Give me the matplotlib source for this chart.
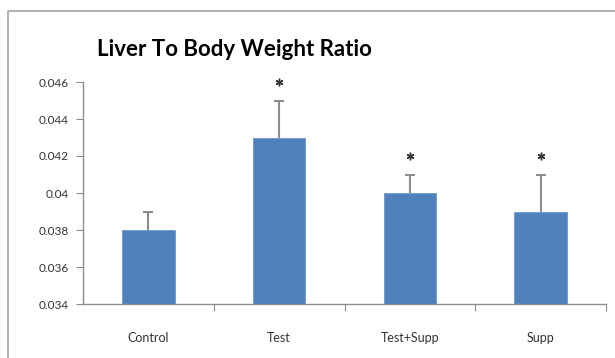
import matplotlib.pyplot as plt
from matplotlib.lines import Line2D

plt.rcParams['font.family'] = ['Lato', 'DejaVu Sans']

groups = ['Control', 'Test', 'Test+Supp', 'Supp']
ratio = [0.038, 0.043, 0.040, 0.039]
err = [0.001, 0.002, 0.001, 0.002]
signif = [False, True, True, True]
yticks = [0.034, 0.036, 0.038, 0.04, 0.042, 0.044, 0.046]
ytick_labels = ['0.034', '0.036', '0.038', '0.04', '0.042', '0.044', '0.046']

fig = plt.figure(figsize=(6.15, 3.58), dpi=100)

# chart area border (only top and left are visible in the crop)
bx, by = 8 / 615, 1 - 11 / 358
fig.lines.append(Line2D([bx, bx, 1.0], [0, by, by], transform=fig.transFigure,
                        color='#a6a6a6', linewidth=1.2))

ax = fig.add_axes([83 / 615, (358 - 304) / 358, (606 - 83) / 615, (304 - 82) / 358])
x = list(range(len(groups)))
ax.bar(x, ratio, width=0.4, color='#4f81bd', edgecolor='#6f98cc', linewidth=0.6, zorder=2)
line, caps, bars = ax.errorbar(x, ratio, yerr=[[0] * len(err), err], fmt='none', ecolor='#8c8c8c',
                               elinewidth=1.5, capsize=3.5, capthick=1.5, zorder=3)
caps[0].set_visible(False)
caps[1].set_color('black')

# significance markers just above the error bars
for i in x:
    if signif[i]:
        ax.plot(i, ratio[i] + err[i] + 0.001, marker=(6, 2, 0), markersize=5.5, color='#333333',
                markeredgewidth=1.0, clip_on=False, zorder=4)

ax.set_ylim(0.034, 0.046)
ax.set_xlim(-0.5, 3.5)
ax.set_yticks(yticks)
ax.set_yticklabels(ytick_labels)
ax.set_xticks([0.5, 1.5, 2.5, 3.5])
ax.set_xticklabels([])
ax.set_xticks(x, minor=True)
ax.set_xticklabels(groups, minor=True)
ax.tick_params(axis='x', which='minor', length=0, pad=20, labelsize=9, labelcolor='#333333')
ax.tick_params(axis='x', which='major', length=5, color='#8c8c8c', direction='out')
ax.tick_params(axis='y', length=5, color='#8c8c8c', labelsize=8.5, labelcolor='#333333', pad=5)

for side in ['top', 'right']:
    ax.spines[side].set_visible(False)
for side in ['left', 'bottom']:
    ax.spines[side].set_color('#8c8c8c')
    ax.spines[side].set_linewidth(1)

fig.text(234 / 615, 1 - 50 / 358, 'Liver To Body Weight Ratio', ha='center', va='center',
         fontsize=16, fontweight='bold', color='black')

fig.savefig('out.png', dpi=100)
